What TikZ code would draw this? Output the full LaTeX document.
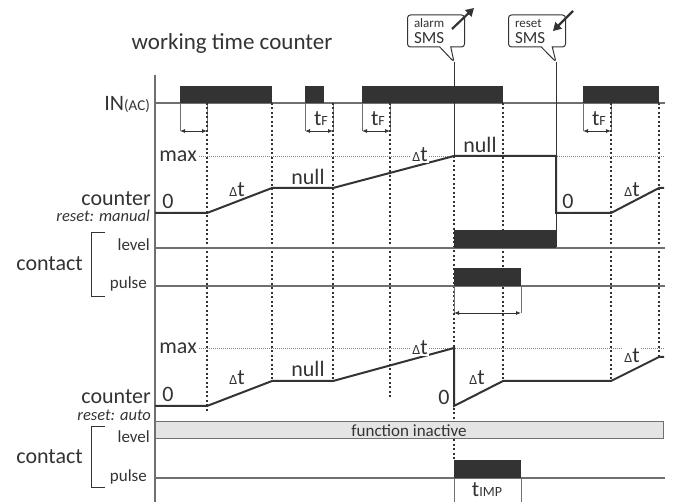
\documentclass[tikz,border=0pt]{standalone}
\usepackage{fontspec}
\setmainfont{Carlito}
\usetikzlibrary{arrows.meta,positioning,shapes.callouts}

\definecolor{ink}{HTML}{333333}
\definecolor{rulec}{HTML}{707070}
\definecolor{offc}{HTML}{E4E4E4}

\newcommand{\fsz}[1]{\fontsize{#1}{#1}\selectfont}
\newcommand{\dt}{{\fsz{14}Δ}t}
\newcommand{\tsub}[1]{t{\fsz{14}#1}}

\begin{document}
\begin{tikzpicture}[x=1pt, y=-1pt,
  lbl/.style={font=\fsz{22}, text=ink, inner sep=0pt},
  sml/.style={font=\fsz{17}, text=ink, inner sep=0pt},
  note/.style={font=\fsz{16.5}\itshape, text=ink, inner sep=0pt},
  track/.style={draw=rulec, line width=1.2pt},
  sig/.style={draw=ink, line width=2pt},
  guide/.style={draw=ink, line width=1.3pt, dash pattern=on 2pt off 2.5pt},
  maxline/.style={draw=gray, line width=0.5pt, dash pattern=on 1pt off 1pt},
  edgeln/.style={draw=rulec, line width=1pt},
  dim/.style={draw=ink, line width=0.8pt, {Latex[length=5pt,width=4pt]}-{Latex[length=5pt,width=4pt]}},
  blk/.style={fill=ink, draw=none},
  sms/.style={rectangle callout, draw=ink, line width=1pt, rounded corners=3pt,
    text width=44pt, align=left, inner xsep=6.5pt, inner ysep=0pt,
    minimum height=32pt, callout pointer width=11pt, text=ink,
    font=\fsz{17}},
  smsarrow/.style={draw=ink, line width=2.2pt, -{Triangle[length=8pt,width=9pt]}}]

  \useasboundingbox (0,0) rectangle (673,502);

  % === title ===
  \node[lbl, font=\fsz{23}, anchor=base] (title) at (232,50) {working time counter};

  % === time axis bounds ===
  \def\xa{155}  \def\xe{665}
  \def\yin{103}
  \def\ylvA{248}  \def\ypuA{286}
  \def\ylvB{439}  \def\ypuB{478}

  % === axis ===
  \draw[track] (\xa,75) -- (\xa,502);

  % === input ===
  \node[lbl, anchor=base east] (inlbl) at (150,111) {IN{\fsz{15}(AC)}};
  \draw[track] (\xa,\yin) -- (\xe,\yin);
  \foreach \a/\b in {180/272, 305/324, 362/503, 583/659}
    \fill[blk] (\a,86) rectangle (\b,\yin);

  % filter time t_F
  \foreach \a/\b/\lab in {180/207/, 305/333/\tsub{F}, 362/390/\tsub{F}, 583/611/\tsub{F}} {
    \draw[edgeln] (\a,\yin) -- (\a,131);
    \draw[edgeln] (\b,\yin) -- (\b,131);
    \draw[dim] (\a,131) -- (\b,131);
    \node[lbl, anchor=base] (tf\a) at ({(\a+\b)/2+2},126) {\lab};
  }

  % === dotted time marks ===
  \foreach \x/\yb in {207/412, 272/381, 333/381, 390/398, 503/381, 611/381, 659/357}
    \draw[guide] (\x,\yin) -- (\x,\yb);
  \draw[guide] (454,156) -- (454,460);

  % === SMS events ===
  \node[sms, callout absolute pointer={(454,62)}] (alarm) at (436,31)
    {{\fsz{13}alarm}\\[-1pt]SMS};
  \draw[smsarrow] (452,29) -- (474,8);
  \draw[draw=ink, line width=0.8pt] (454,62) -- (454,156);

  \node[sms, callout absolute pointer={(556,62)}] (reset) at (537,31)
    {{\fsz{13}reset}\\[-1pt]SMS};
  \draw[smsarrow] (573,11) -- (553,31);
  \draw[draw=ink, line width=0.8pt] (556,62) -- (556,\ylvA);

  % === counter, reset: manual ===
  \node[lbl, anchor=base east] (cntA) at (151,206) {counter};
  \node[note, anchor=base east] (rstA) at (150,222) {reset: manual};
  \draw[maxline] (199,156) -- (\xe,156);
  \node[lbl, anchor=base east] (maxA) at (197,162) {max};
  \draw[sig] (\xa,213) -- (207,213) -- (272,188) -- (333,188) -- (454,156)
    -- (556,156) -- (556,213) -- (611,213) -- (659,188) -- (664,188);
  \node[lbl, anchor=base] (zA1) at (168,209) {0};
  \node[lbl, anchor=base] (dA1) at (237,197) {\dt};
  \node[lbl, anchor=base] (nA1) at (308,185) {null};
  \node[lbl, anchor=base, fill=white, inner sep=1pt] (dA2) at (420,162) {\dt};
  \node[lbl, anchor=base] (nA2) at (480,153) {null};
  \node[lbl, anchor=base] (zA2) at (568,209) {0};
  \node[lbl, anchor=base] (dA3) at (632,197) {\dt};

  % === contact A ===
  \draw[track] (\xa,\ylvA) -- (\xe,\ylvA);
  \draw[track] (\xa,\ypuA) -- (\xe,\ypuA);
  \fill[blk] (454,230) rectangle (556,\ylvA);
  \fill[blk] (454,268) rectangle (521,\ypuA);
  \draw[edgeln] (454,\ypuA) -- (454,313);
  \draw[edgeln] (521,\ypuA) -- (521,313);
  \draw[dim] (454,313) -- (521,313);
  \node[sml, anchor=base east] (lvA) at (150,251) {level};
  \node[sml, anchor=base east] (puA) at (147,289) {pulse};
  \draw[draw=ink, line width=1pt] (105,233) -- (91,233) -- (91,297) -- (105,297);
  \node[lbl, anchor=base east] (ctA) at (83,271) {contact};

  % === counter, reset: auto ===
  \node[lbl, anchor=base east] (cntB) at (151,404) {counter};
  \node[note, anchor=base east] (rstB) at (151,421) {reset: auto};
  \draw[maxline] (199,348) -- (\xe,348);
  \node[lbl, anchor=base east] (maxB) at (197,354) {max};
  \draw[sig] (\xa,406) -- (207,406) -- (272,381) -- (333,381) -- (454,348)
    -- (454,406) -- (503,381) -- (611,381) -- (659,357) -- (664,357);
  \node[lbl, anchor=base] (zB1) at (168,402) {0};
  \node[lbl, anchor=base] (dB1) at (237,385) {\dt};
  \node[lbl, anchor=base] (nB1) at (308,377) {null};
  \node[lbl, anchor=base, fill=white, inner sep=1pt] (dB2) at (420,355) {\dt};
  \node[lbl, anchor=base] (zB2) at (444,405) {0};
  \node[lbl, anchor=base] (dB3) at (477,385) {\dt};
  \node[lbl, anchor=base, fill=white, inner sep=1pt] (dB4) at (632,363) {\dt};

  % === contact B ===
  \draw[draw=rulec, fill=offc, line width=1pt] (\xa,422) rectangle (663,\ylvB);
  \node[sml, anchor=base] (inact) at (409,437) {function inactive};
  \draw[track] (\xa,\ypuB) -- (\xe,\ypuB);
  \fill[blk] (454,460) rectangle (521,\ypuB);
  \draw[edgeln] (454,\ypuB) -- (454,502);
  \draw[edgeln] (521,\ypuB) -- (521,502);
  \node[lbl, anchor=base] (timp) at (487,497) {\tsub{IMP}};
  \node[sml, anchor=base east] (lvB) at (150,443) {level};
  \node[sml, anchor=base east] (puB) at (147,482) {pulse};
  \draw[draw=ink, line width=1pt] (105,427) -- (91,427) -- (91,488) -- (105,488);
  \node[lbl, anchor=base east] (ctB) at (83,464) {contact};
\end{tikzpicture}
\end{document}
